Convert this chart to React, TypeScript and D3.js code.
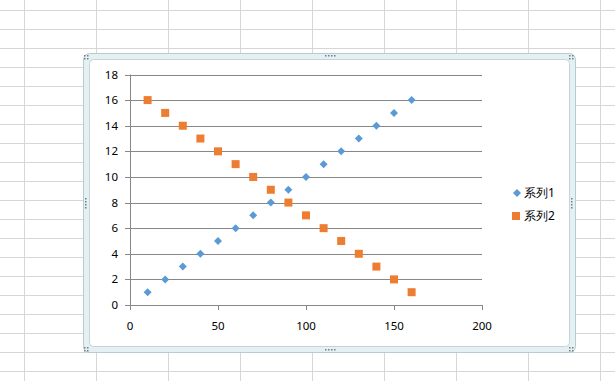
import React from "react";
import * as d3 from "d3";

const xValues = [10, 20, 30, 40, 50, 60, 70, 80, 90, 100, 110, 120, 130, 140, 150, 160];
const series1 = [1, 2, 3, 4, 5, 6, 7, 8, 9, 10, 11, 12, 13, 14, 15, 16];
const series2 = [16, 15, 14, 13, 12, 11, 10, 9, 8, 7, 6, 5, 4, 3, 2, 1];
const seriesNames = ["系列1", "系列2"];
const xTicks = [0, 50, 100, 150, 200];
const yTicks = [0, 2, 4, 6, 8, 10, 12, 14, 16, 18];

const W = 615, H = 381;
const BLUE = "#5B9BD5";
const ORANGE = "#ED7D31";
const FONT = "'Noto Sans', 'Liberation Sans', sans-serif";

export default function App() {
  const x = d3.scaleLinear().domain([0, 200]).range([130, 482]);
  const y = d3.scaleLinear().domain([0, 18]).range([305, 74.5]);
  const cols = d3.range(0, 9).map((i) => 23.5 + i * 72);
  const rows = d3.range(0, 20).map((i) => 9.5 + i * 19.05);
  const diamond = (cx: number, cy: number, r: number) =>
    `M${cx},${cy - r}L${cx + r},${cy}L${cx},${cy + r}L${cx - r},${cy}Z`;

  return (
    <svg width={W} height={H} style={{ position: "absolute", left: 0, top: 0, background: "#fff" }}>
      {/* spreadsheet grid */}
      {cols.map((c, i) => (
        <line key={"c" + i} x1={Math.round(c) + 0.5} x2={Math.round(c) + 0.5} y1={0} y2={H} stroke="#d6d6d6" />
      ))}
      {rows.map((r, i) => (
        <line key={"r" + i} y1={Math.round(r) + 0.5} y2={Math.round(r) + 0.5} x1={0} x2={W} stroke="#d6d6d6" />
      ))}
      {/* chart frame */}
      <rect x={83.5} y={53.5} width={492} height={299} rx={6} fill="#e4f0f2" stroke="#b4cdd4" />
      <rect x={89.5} y={59.5} width={480} height={287} rx={4} fill="#fff" stroke="#c3d4da" />
      {/* handles */}
      {[[86, 57], [571, 57], [86, 349], [571, 349]].map(([hx, hy], i) => (
        <g key={"h" + i} fill="#6f7f86">
          <rect x={hx - 2} y={hy - 2} width={1.5} height={1.5} />
          <rect x={hx + 1} y={hy - 2} width={1.5} height={1.5} />
          <rect x={hx - 2} y={hy + 1} width={1.5} height={1.5} />
          <rect x={hx + 1} y={hy + 1} width={1.5} height={1.5} />
        </g>
      ))}
      {[[330, 56], [330, 350]].map(([hx, hy], i) => (
        <g key={"hh" + i} fill="#6f7f86">
          {[-5, -2, 1, 4].map((d) => (
            <rect key={d} x={hx + d} y={hy - 1} width={1.5} height={1.5} />
          ))}
        </g>
      ))}
      {[[86, 203], [572, 203]].map(([hx, hy], i) => (
        <g key={"hv" + i} fill="#6f7f86">
          {[-5, -2, 1, 4].map((d) => (
            <rect key={d} x={hx - 1} y={hy + d} width={1.5} height={1.5} />
          ))}
        </g>
      ))}
      {/* gridlines */}
      {yTicks.map((t) => (
        <line key={"g" + t} x1={x(0) - 5} x2={x(200)} y1={Math.round(y(t)) + 0.5} y2={Math.round(y(t)) + 0.5} stroke="#878787" />
      ))}
      {/* y axis */}
      <line x1={Math.round(x(0)) + 0.5} x2={Math.round(x(0)) + 0.5} y1={y(18)} y2={y(0)} stroke="#878787" />
      {/* x ticks */}
      {xTicks.map((t) => (
        <line key={"xt" + t} x1={Math.round(x(t)) + 0.5} x2={Math.round(x(t)) + 0.5} y1={y(0)} y2={y(0) + 5} stroke="#878787" />
      ))}
      {yTicks.map((t) => (
        <text key={"yl" + t} x={118} y={y(t)} dy="0.35em" textAnchor="end" fontFamily={FONT} fontSize={11.5} fill="#000">
          {t}
        </text>
      ))}
      {xTicks.map((t) => (
        <text key={"xl" + t} x={x(t)} y={326} dy="0.35em" textAnchor="middle" fontFamily={FONT} fontSize={11.5} fill="#000">
          {t}
        </text>
      ))}
      {/* series */}
      {xValues.map((v, i) => (
        <path key={"s1" + i} d={diamond(x(v), y(series1[i]), 4)} fill={BLUE} />
      ))}
      {xValues.map((v, i) => (
        <rect key={"s2" + i} x={x(v) - 4} y={y(series2[i]) - 4} width={8} height={8} fill={ORANGE} />
      ))}
      {/* legend */}
      <path d={diamond(517, 193, 4)} fill={BLUE} />
      <text x={524} y={193} dy="0.35em" fontFamily={FONT} fontSize={12} fill="#000">{seriesNames[0]}</text>
      <rect x={512} y={212} width={8} height={8} fill={ORANGE} />
      <text x={524} y={216} dy="0.35em" fontFamily={FONT} fontSize={12} fill="#000">{seriesNames[1]}</text>
    </svg>
  );
}
